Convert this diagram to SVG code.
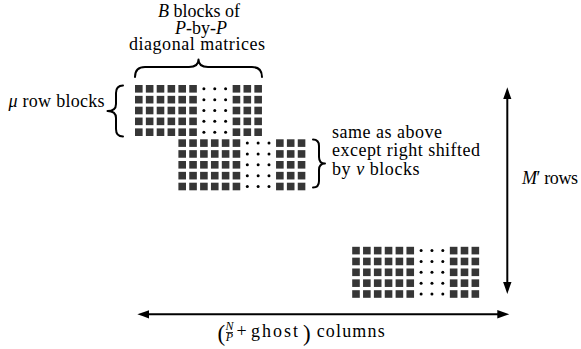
<svg xmlns="http://www.w3.org/2000/svg" xmlns:xlink="http://www.w3.org/1999/xlink" width="581" height="349" viewBox="0 0 581 349">
<defs>
<marker id="ah" markerUnits="userSpaceOnUse" markerWidth="14" markerHeight="10" viewBox="0 -5 14 10" refX="4" refY="0" orient="auto-start-reverse">
<path d="M0,-4.2 Q6,-2 12,0 Q6,2 0,4.2 Z" fill="#000"/>
</marker>
<g id="row" fill="#363636">
<rect x="0" y="0" width="7.6" height="7.6"/>
<rect x="10.85" y="0" width="7.6" height="7.6"/>
<rect x="21.7" y="0" width="7.6" height="7.6"/>
<rect x="32.55" y="0" width="7.6" height="7.6"/>
<rect x="43.4" y="0" width="7.6" height="7.6"/>
<rect x="54.25" y="0" width="7.6" height="7.6"/>
<circle cx="68.9" cy="3.8" r="1.5" fill="#000"/>
<circle cx="79.75" cy="3.8" r="1.5" fill="#000"/>
<circle cx="90.6" cy="3.8" r="1.5" fill="#000"/>
<rect x="97.65" y="0" width="7.6" height="7.6"/>
<rect x="108.5" y="0" width="7.6" height="7.6"/>
<rect x="119.35" y="0" width="7.6" height="7.6"/>
</g>
<g id="blk">
<use xlink:href="#row" y="0"/>
<use xlink:href="#row" y="10.85"/>
<use xlink:href="#row" y="21.7"/>
<use xlink:href="#row" y="32.55"/>
<use xlink:href="#row" y="43.4"/>
</g>
</defs>

<g id="block1">
<use xlink:href="#blk" x="135" y="85"/>
</g>
<g id="block2">
<use xlink:href="#blk" x="178.4" y="139.3"/>
</g>
<g id="block3">
<use xlink:href="#blk" x="352.2" y="246.8"/>
</g>

<g id="label-top">
<path d="M135,77 Q135,67 145,67 L189,67 Q198.5,67 198.5,59.5 Q198.5,67 208,67 L252,67 Q262,67 262,77" fill="none" stroke="#000" stroke-width="2" stroke-linejoin="round" stroke-linecap="round"/>
<text x="199" y="17" text-anchor="middle" font-family="Liberation Serif, serif" font-size="18"><tspan font-style="italic">B</tspan> blocks of</text>
<text x="201" y="33.5" text-anchor="middle" font-family="Liberation Serif, serif" font-size="18"><tspan font-style="italic">P</tspan>-by-<tspan font-style="italic">P</tspan></text>
<text x="197" y="50" text-anchor="middle" textLength="136" lengthAdjust="spacing" font-family="Liberation Serif, serif" font-size="18">diagonal matrices</text>
</g>

<g id="label-mu">
<path d="M123,85.5 Q116,85.5 116,93 L116,104 Q116,111 107.5,111 Q116,111 116,118 L116,129 Q116,136.5 123,136.5" fill="none" stroke="#000" stroke-width="2" stroke-linejoin="round" stroke-linecap="round"/>
<text x="8.5" y="107" textLength="96" lengthAdjust="spacing" font-family="Liberation Serif, serif" font-size="18"><tspan font-style="italic">&#956;</tspan> row blocks</text>
</g>

<g id="label-shift">
<path d="M313,139.5 Q319,139.5 319,146 L319,157 Q319,163.5 325,163.5 Q319,163.5 319,170 L319,181 Q319,187.5 313,187.5" fill="none" stroke="#000" stroke-width="2" stroke-linejoin="round" stroke-linecap="round"/>
<text x="332" y="137.5" textLength="110" lengthAdjust="spacing" font-family="Liberation Serif, serif" font-size="18">same as above</text>
<text x="332" y="156" textLength="148" lengthAdjust="spacing" font-family="Liberation Serif, serif" font-size="18">except right shifted</text>
<text x="332" y="174.5" textLength="87.5" lengthAdjust="spacing" font-family="Liberation Serif, serif" font-size="18">by <tspan font-style="italic">&#957;</tspan> blocks</text>
</g>

<g id="connectors" fill="none" stroke="#000" stroke-width="2">
<line x1="507.3" y1="95.3" x2="507.3" y2="286" marker-start="url(#ah)" marker-end="url(#ah)"/>
<line x1="145.3" y1="314.3" x2="501.3" y2="314.3" marker-start="url(#ah)" marker-end="url(#ah)"/>
</g>

<g id="label-rows">
<text x="522" y="184" textLength="56" lengthAdjust="spacing" font-family="Liberation Serif, serif" font-size="18"><tspan font-style="italic">M</tspan>&#8242; rows</text>
</g>

<g id="label-cols">
<text x="217.5" y="340.5" font-family="Liberation Serif, serif" font-size="23">(</text>
<text x="229.5" y="330" text-anchor="middle" font-family="Liberation Serif, serif" font-size="12" font-style="italic">N</text>
<line x1="226" y1="332.5" x2="233" y2="332.5" stroke="#000" stroke-width="0.8"/>
<text x="229.5" y="341" text-anchor="middle" font-family="Liberation Serif, serif" font-size="12" font-style="italic">P</text>
<text x="236.5" y="336.7" font-family="Liberation Serif, serif" font-size="18">+</text>
<text x="251" y="336.7" textLength="47" lengthAdjust="spacing" font-family="Liberation Serif, serif" font-size="18">ghost</text>
<text x="303" y="340.5" font-family="Liberation Serif, serif" font-size="23">)</text>
<text x="316.7" y="336.7" textLength="68" lengthAdjust="spacing" font-family="Liberation Serif, serif" font-size="18">columns</text>
</g>
</svg>
